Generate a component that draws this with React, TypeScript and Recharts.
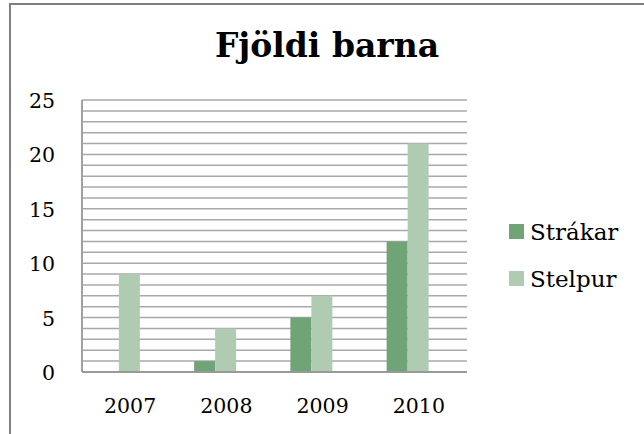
import { BarChart, Bar, XAxis, YAxis, CartesianGrid } from 'recharts'

const title = 'Fjöldi barna'
const categories = ['2007', '2008', '2009', '2010']
const strakar = [0, 1, 5, 12]
const stelpur = [9, 4, 7, 21]
// the sheet has a third, empty column, which is why each pair sits left of centre
const empty = [null, null, null, null]
const seriesNames = ['Strákar', 'Stelpur']
const seriesKeys = ['strakar', 'stelpur']
const seriesColors = ['#70a477', '#afcbb1']
const gridTicks = [0, 1, 2, 3, 4, 5, 6, 7, 8, 9, 10, 11, 12, 13, 14, 15, 16, 17, 18, 19, 20, 21, 22, 23, 24, 25]
const labelTicks = [0, 5, 10, 15, 20, 25]

const data = categories.map((year, i) => ({
  year,
  strakar: strakar[i],
  stelpur: stelpur[i],
  empty: empty[i],
}))

const FONT = '"DejaVu Serif", serif'

function YTick(props: any) {
  const { x, y, payload } = props
  if (!labelTicks.includes(payload.value)) return null
  return (
    <text x={x} y={y + 8} textAnchor="end" fontFamily={FONT} fontSize={20.5} fill="#000">
      {payload.value}
    </text>
  )
}

function XTick(props: any) {
  const { x, y, payload } = props
  return (
    <text x={x} y={y + 15} textAnchor="middle" fontFamily={FONT} fontSize={20.5} fill="#000">
      {payload.value}
    </text>
  )
}

export default function App() {
  return (
    <div style={{ position: 'fixed', left: 0, top: 0, width: 644, height: 434, overflow: 'hidden', background: '#fff' }}>
      <div
        style={{
          position: 'absolute',
          left: 9,
          top: 3,
          width: 800,
          height: 600,
          border: '2px solid #7f7f7f',
        }}
      />
      <div style={{ position: 'absolute', left: 0, top: 0 }}>
        <BarChart
          width={644}
          height={434}
          data={data}
          margin={{ top: 100, right: 177, bottom: 22, left: 0 }}
          barCategoryGap="16.5%"
          barGap={0}
        >
          <CartesianGrid vertical={false} stroke="#a8a8a8" strokeWidth={1.5} />
          <XAxis
            dataKey="year"
            height={40}
            tickLine={false}
            tickSize={0}
            tickMargin={26}
            axisLine={{ stroke: '#999', strokeWidth: 2 }}
            tick={<XTick />}
            interval={0}
          />
          <YAxis
            width={82}
            domain={[0, 25]}
            ticks={gridTicks}
            interval={0}
            tickLine={false}
            tickSize={0}
            tickMargin={27}
            axisLine={{ stroke: '#a0a0a0', strokeWidth: 2 }}
            tick={<YTick />}
          />
          <Bar dataKey="strakar" name={seriesNames[0]} fill={seriesColors[0]} isAnimationActive={false} />
          <Bar dataKey="stelpur" name={seriesNames[1]} fill={seriesColors[1]} isAnimationActive={false} />
          <Bar dataKey="empty" legendType="none" fill="none" isAnimationActive={false} />
        </BarChart>
      </div>
      <svg width={644} height={434} style={{ position: 'absolute', left: 0, top: 0, pointerEvents: 'none' }}>
        <text x={327} y={57} textAnchor="middle" fontFamily={FONT} fontWeight="bold" fontSize={33} fill="#000">
          {title}
        </text>
        {seriesKeys.map((k, i) => (
          <g key={k}>
            <rect x={509} y={224 + i * 47} width={15} height={15} fill={seriesColors[i]} />
            <text x={530} y={240 + i * 47} fontFamily={FONT} fontSize={23} fill="#000">
              {seriesNames[i]}
            </text>
          </g>
        ))}
      </svg>
    </div>
  )
}
